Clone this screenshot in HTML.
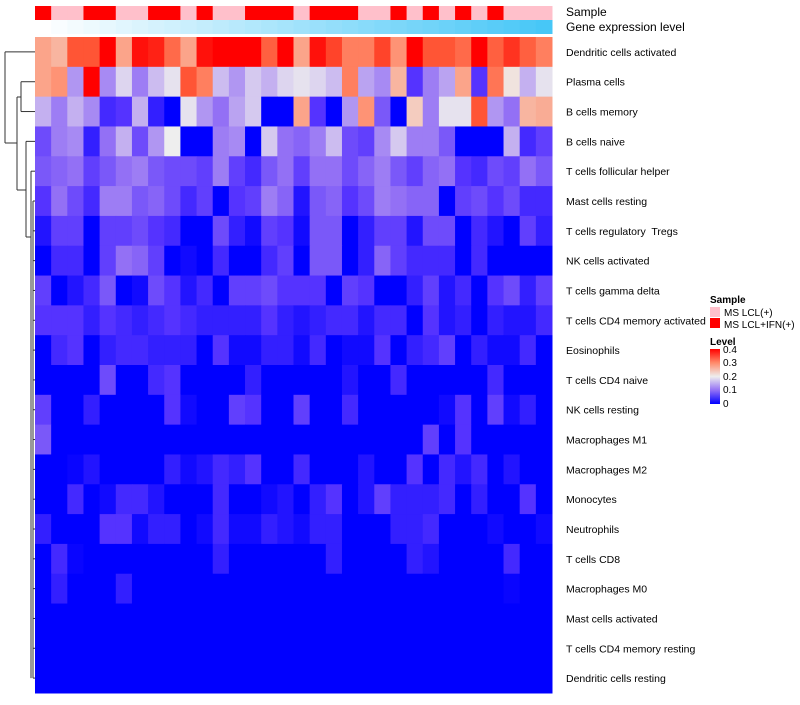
<!DOCTYPE html>
<html><head><meta charset="utf-8">
<style>
body{margin:0;background:#fff;font-family:"Liberation Sans",sans-serif;}
svg text{font-family:"Liberation Sans",sans-serif;white-space:pre;}
</style></head>
<body>
<svg id="chart" width="800" height="700" xmlns="http://www.w3.org/2000/svg">
<g id="dendro" stroke="#333" stroke-width="1" fill="none"></g>
<g id="annot"></g>
<g id="cells"></g>
<g id="labels" font-size="10.5" fill="#000"></g>
<text x="566" y="16" font-size="12">Sample</text>
<text x="566" y="31" font-size="12">Gene expression level</text>
<g>
<text x="710" y="303" font-size="10" font-weight="bold">Sample</text>
<rect x="710" y="307" width="10" height="10" fill="#FFC0CB"/>
<text x="724" y="316" font-size="10">MS LCL(+)</text>
<rect x="710" y="318" width="10" height="10" fill="#FF0000"/>
<text x="724" y="328" font-size="10">MS LCL+IFN(+)</text>
<text x="710" y="345" font-size="10" font-weight="bold">Level</text>
<defs><linearGradient id="lg" x1="0" y1="1" x2="0" y2="0">
<stop offset="0" stop-color="#0000FF"/><stop offset="0.25" stop-color="#9370F5"/><stop offset="0.5" stop-color="#EEEEEE"/><stop offset="0.75" stop-color="#FF8A6A"/><stop offset="1" stop-color="#FF0000"/></linearGradient></defs>
<rect x="710" y="349" width="10" height="55" fill="url(#lg)"/>
<text x="723" y="353" font-size="10">0.4</text>
<text x="723" y="366" font-size="10">0.3</text>
<text x="723" y="380" font-size="10">0.2</text>
<text x="723" y="393" font-size="10">0.1</text>
<text x="723" y="407" font-size="10">0</text>
</g>
</svg>
<script>
const rowNames=["Dendritic cells activated","Plasma cells","B cells memory","B cells naive","T cells follicular helper","Mast cells resting","T cells regulatory  Tregs","NK cells activated","T cells gamma delta","T cells CD4 memory activated","Eosinophils","T cells CD4 naive","NK cells resting","Macrophages M1","Macrophages M2","Monocytes","Neutrophils","T cells CD8","Macrophages M0","Mast cells activated","T cells CD4 memory resting","Dendritic cells resting"];
const sampleGroup=[1,0,0,1,1,0,0,1,1,0,1,0,0,1,1,1,0,1,1,1,0,0,1,0,1,0,1,0,1,0,0,0];
const expressionLevel=[0,1,2,3,4,5,6,7,8,9,10,11,12,13,14,15,16,17,18,19,20,21,22,23,24,25,26,27,28,29,30,31];
const r0=[.27,.25,.35,.35,.42,.27,.39,.38,.33,.27,.39,.42,.42,.42,.34,.42,.27,.39,.36,.31,.31,.36,.29,.42,.35,.35,.33,.42,.34,.37,.34,.31];
const r1=[.27,.29,.13,.42,.12,.18,.11,.16,.19,.35,.31,.16,.13,.17,.15,.18,.19,.18,.16,.31,.14,.12,.25,.05,.11,.14,.27,.05,.32,.21,.15,.19];
const r2=[.15,.11,.15,.12,.04,.05,.15,.03,0,.19,.13,.1,.14,.17,0,0,.27,.05,0,.13,.29,.08,0,.23,.11,.19,.19,.35,.13,.1,.25,.26];
const r3=[.07,.11,.12,.03,.1,.15,.07,.13,.2,0,0,.11,.12,0,.17,.1,.09,.11,.16,.07,.06,.12,.17,.11,.11,.08,0,0,0,.15,.04,.06];
const r4=[.08,.09,.1,.06,.08,.1,.11,.08,.07,.07,.06,.11,.06,.04,.08,.1,.06,.1,.1,.07,.09,.11,.08,.06,.09,.1,.05,.04,.07,.06,.1,.08];
const r5=[.05,.1,.07,.04,.11,.11,.08,.09,.07,.04,.06,0,.05,.06,.11,.09,.02,.08,.09,.05,.07,.11,.1,.09,.09,0,.06,.07,.05,.07,.04,.04];
const r6=[.02,.06,.06,0,.06,.06,.07,.05,.04,0,0,.07,.03,.01,.06,.05,.01,.08,.08,0,.03,.06,.06,.02,.07,.07,0,.04,.02,0,.06,.03];
const r7=[0,.04,.04,0,.06,.1,.09,.06,0,.01,0,.04,0,0,.04,.06,0,.08,.08,0,.03,.09,.06,.04,.04,.04,0,.04,0,0,0,0];
const r8=[.06,0,.02,.04,.08,0,.01,.07,.05,.02,.04,0,.06,.06,.07,.05,.05,.05,0,.06,.05,0,0,.03,.06,.02,.04,0,.05,.07,.03,.06];
const r9=[.05,.05,.05,.03,.05,.04,.03,.04,.05,.04,.03,.03,.03,.03,.05,.03,.02,.03,.04,.04,.02,.04,.04,0,.05,.02,.03,0,.03,.02,.02,.04];
const r10=[0,.04,.05,0,.03,.04,.04,.03,.03,.03,0,.05,.01,.01,.03,.03,.01,.04,0,.01,.01,.05,0,.03,.04,.06,0,.03,.01,.01,.04,0];
const r11=[0,0,0,0,.07,0,0,.04,.05,0,0,0,0,.03,0,0,0,0,0,.02,0,0,.04,0,0,0,0,0,.04,0,0,0];
const r12=[.06,0,0,.03,0,0,0,0,.05,.01,0,0,.06,.05,0,0,.06,0,0,.04,0,0,0,0,0,.01,.05,0,.06,.01,.03,0];
const r13=[.08,0,0,0,0,0,0,0,0,0,0,0,0,0,0,0,0,0,0,0,0,0,0,0,.06,0,.05,0,0,0,0,0];
const r14=[0,0,.005,.02,0,0,0,0,.03,.01,.02,.04,.03,.05,0,0,.04,0,0,0,.02,0,0,.05,0,.04,.02,.04,0,.02,0,0];
const r15=[0,0,.04,0,.01,.04,.04,.02,0,0,0,.04,0,0,.01,.02,0,.03,.05,0,.02,.06,.03,.03,.03,.04,0,.03,0,0,.05,0];
const r16=[.03,0,0,0,.05,.05,.01,.03,.03,0,.01,.04,.01,.01,.03,.02,.01,.03,.03,0,0,0,.03,.03,.04,0,0,0,.01,0,0,.01];
const r17=[0,.04,.005,0,0,0,0,0,0,0,0,.03,0,0,0,0,0,0,.03,0,0,0,0,.03,.02,0,0,0,0,.04,0,0];
const r18=[0,.03,0,0,0,.03,0,0,0,0,0,0,0,0,0,0,0,0,0,0,0,0,0,0,0,0,0,0,0,.005,0,0];
const r19=[0,0,0,0,0,0,0,0,0,0,0,0,0,0,0,0,0,0,0,0,0,0,0,0,0,0,0,0,0,0,0,0];
const r20=[0,0,0,0,0,0,0,0,0,0,0,0,0,0,0,0,0,0,0,0,0,0,0,0,0,0,0,0,0,0,0,0];
const r21=[0,0,0,0,0,0,0,0,0,0,0,0,0,0,0,0,0,0,0,0,0,0,0,0,0,0,0,0,0,0,0,0];
const values=[r0,r1,r2,r3,r4,r5,r6,r7,r8,r9,r10,r11,r12,r13,r14,r15,r16,r17,r18,r19,r20,r21];

const NS="http://www.w3.org/2000/svg";
const X0=35,X1=552,Y0=37,Y1=693;
const nc=r0.length,nr=values.length;
const cw=(X1-X0)/nc,rh=(Y1-Y0)/nr;
const xPos=c=>X0+c*cw;
const yPos=r=>Y0+r*rh;
const stops=[[0,[0,0,255]],[.05,[85,51,255]],[.1,[147,112,245]],[.15,[196,176,240]],[.2,[238,238,238]],[.25,[248,181,160]],[.3,[255,138,106]],[.35,[255,85,53]],[.4,[255,0,0]]];
function col(v){v=Math.max(0,Math.min(.4,v));for(let i=1;i<stops.length;i++){if(v<=stops[i][0]){const a=stops[i-1],b=stops[i],t=(v-a[0])/(b[0]-a[0]);const c=a[1].map((x,k)=>Math.round(x+(b[1][k]-x)*t));return `rgb(${c})`;}}return "rgb(255,0,0)";}
function mk(tag,attrs,parent){const e=document.createElementNS(NS,tag);for(const k in attrs)e.setAttribute(k,attrs[k]);parent.appendChild(e);return e;}
const cells=document.getElementById('cells');
values.forEach((row,r)=>row.forEach((v,c)=>{
 const e=mk('rect',{x:xPos(c),y:yPos(r),width:cw+0.5,height:rh+0.5,fill:col(v)},cells);
 
 
}));
const annot=document.getElementById('annot');
sampleGroup.forEach((g,c)=>{
 const e=mk('rect',{x:xPos(c),y:6,width:cw+0.5,height:14,fill:g?'#FF0000':'#FFC0CB'},annot);
 
 
});
const maxE=Math.max(...expressionLevel);
expressionLevel.forEach((v,c)=>{
 const t=v/maxE;
 const rr=Math.round(255+(71-255)*t),gg=Math.round(255+(199-255)*t),bb=Math.round(255+(247-255)*t);
 const e=mk('rect',{x:xPos(c),y:20,width:cw+0.5,height:14,fill:`rgb(${rr},${gg},${bb})`},annot);
 
 
});
const labels=document.getElementById('labels');
rowNames.forEach((n,r)=>{
 const t=mk('text',{x:566,y:yPos(r)+rh/2+4},labels);
 t.textContent=n;
 
 
});
const yc=r=>yPos(r)+rh/2;
const d=document.getElementById('dendro');
const segs=[
 [5,yc(0),35,yc(0)],[5,yc(0),5,143],[5,143,17,143],
 [17,97,17,190],[17,97,21,97],[21,yc(1),21,yc(2)],[21,yc(1),35,yc(1)],[21,yc(2),35,yc(2)],
 [17,190,26,190],[26,yc(3),26,237],[26,yc(3),35,yc(3)],
 [26,237,31,237],[31,yc(4),31,yc(21)],[31,yc(4),35,yc(4)],
 [33,yc(5),33,yc(21)]
];
for(let r=5;r<22;r++)segs.push([33,yc(r),35,yc(r)]);
segs.forEach(s=>{
 const e=mk('line',{x1:s[0],y1:s[1],x2:s[2],y2:s[3]},d);
 
 
});
</script>
</body></html>
